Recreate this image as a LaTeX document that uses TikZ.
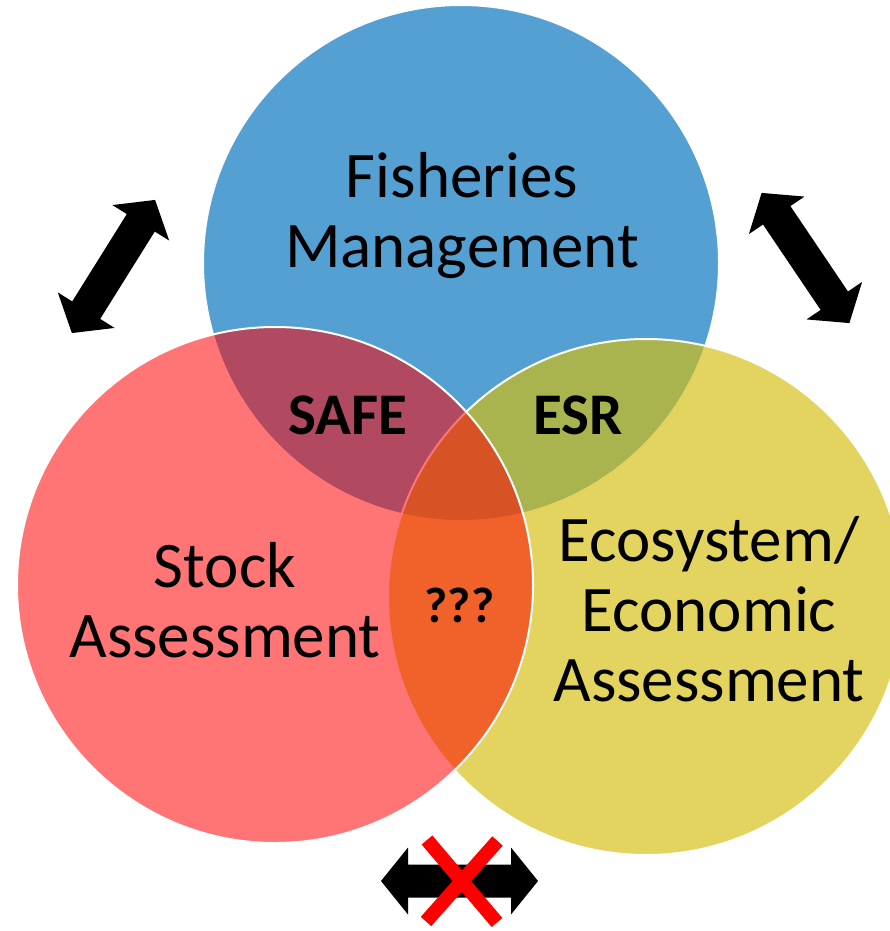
\documentclass[tikz,border=0pt]{standalone}
\usepackage{fontspec}
\setmainfont{Carlito}
\definecolor{fmblue}{RGB}{85,160,211}
\definecolor{eayellow}{RGB}{211,190,13}
\tikzset{pics/bigarrow/.style={code={
  \fill (-78.5,0) -- (-51.5,33.5) -- (-51.5,16.5) -- (51.5,16.5) -- (51.5,33.5)
    -- (78.5,0) -- (51.5,-33.5) -- (51.5,-16.5) -- (-51.5,-16.5) -- (-51.5,-33.5) -- cycle;
}}}
\begin{document}
\begin{tikzpicture}
  [x=1pt,y=-1pt,every node/.style={inner sep=0pt,align=center}]
  \tikzstyle{venn} = [circle,draw=white,line width=2pt,minimum size=516pt]
  \tikzstyle{big} = [font=\fontsize{65}{70}\selectfont]
  \tikzstyle{small} = [font=\fontsize{59}{62}\selectfont\bfseries]
  \clip (0,0) rectangle (890,931);
  \node[venn,fill=fmblue] (fm) at (461,263) {};
  \node[venn,fill=eayellow,fill opacity=.665] (ea) at (646,597) {};
  \node[venn,fill=red,fill opacity=.54] (sa) at (275,585) {};
  \node[big] (fmtext) at (462,216) {Fisheries\\Management};
  \node[big] (satext) at (225,600) {Stock\\Assessment};
  \node[big] (eatext) at (709,609) {Ecosystem/\\Economic\\Assessment};
  \node[small] (safe) at (347.5,415) {SAFE};
  \node[small] (esr) at (578,415) {ESR};
  \node[small,font=\fontsize{50}{54}\selectfont\bfseries] (qqq) at (459.5,605.5) {???};
\foreach \px/\py/\ang in {113.5/266.5/58,805.5/258/-56,459.5/881/0}
   \pic[rotate=\ang] at (\px,\py) {bigarrow};
  \draw[red,line width=14pt] (427,840) -- (497,922.5) (497.5,841) -- (426,921.5);
\end{tikzpicture}
\end{document}
